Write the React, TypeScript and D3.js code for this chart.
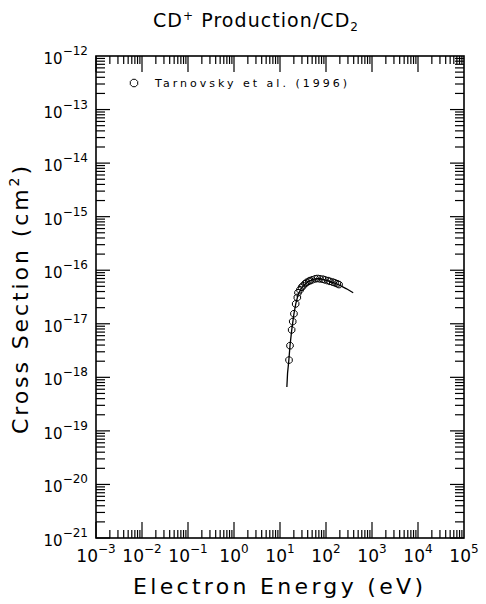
import React from "react";
import * as d3 from "d3";

// measured points (Tarnovsky et al. 1996)
const energies = [15.7, 16.5, 17.9, 18.9, 20.1, 21.9, 23.8, 24.6, 27.2, 29.5, 31.6, 35, 38, 42, 45, 50, 58, 65, 74, 85, 95, 110, 122, 140, 157, 175, 192];
const sections = [2.1e-18, 3.9e-18, 7.7e-18, 1.1e-17, 1.54e-17, 2.35e-17, 3.1e-17, 3.8e-17, 4.3e-17, 4.8e-17, 5.1e-17, 5.6e-17, 5.9e-17, 6.2e-17, 6.4e-17, 6.6e-17, 6.9e-17, 7.0e-17, 6.9e-17, 6.8e-17, 6.6e-17, 6.4e-17, 6.2e-17, 6.0e-17, 5.8e-17, 5.6e-17, 5.4e-17];

// recommended curve
const fitEnergies = [14.1, 14.6, 15.5, 16.5, 18, 20, 22, 25, 30, 40, 55, 70, 90, 120, 160, 200, 280, 390];
const fitSections = [6.6e-19, 1.2e-18, 2.0e-18, 3.9e-18, 7.7e-18, 1.5e-17, 2.35e-17, 3.6e-17, 4.8e-17, 6.1e-17, 6.8e-17, 7.0e-17, 6.7e-17, 6.2e-17, 5.7e-17, 5.2e-17, 4.5e-17, 3.8e-17];

const xExps = [-3, -2, -1, 0, 1, 2, 3, 4, 5];
const yExps = [-12, -13, -14, -15, -16, -17, -18, -19, -20, -21];

const legendLabel = "Tarnovsky et al. (1996)";
const font = "'DejaVu Sans', sans-serif";

export default function App() {
  const left = 96, right = 464, top = 56, bottom = 538;

  const x = d3.scaleLog().domain([1e-3, 1e5]).range([left, right]);
  const y = d3.scaleLog().domain([1e-21, 1e-12]).range([bottom, top]);

  const line = d3.line<number>()
    .x((d, i) => x(fitEnergies[i]))
    .y(d => y(d));

  // ticks inside the frame
  const xTicks: { v: number; major: boolean }[] = [];
  for (let e = -3; e < 5; e++) {
    for (let k = 1; k < 10; k++) xTicks.push({ v: k * Math.pow(10, e), major: k === 1 });
  }
  const yTicks: { v: number; major: boolean }[] = [];
  for (let e = -21; e < -12; e++) {
    for (let k = 1; k < 10; k++) yTicks.push({ v: k * Math.pow(10, e), major: k === 1 });
  }

  const octagon = (cx: number, cy: number, r: number) =>
    d3.range(8).map(i => {
      const a = (Math.PI / 4) * i + Math.PI / 8;
      return `${cx + r * Math.cos(a)},${cy + r * Math.sin(a)}`;
    }).join(" ");

  return (
    <svg width={486} height={604} style={{ position: "absolute", left: 0, top: 0, background: "#fff" }}>
      <rect x={0} y={0} width={486} height={604} fill="#fff" />

      {/* title */}
      <text x={153} y={27} fontFamily={font} fontSize={19} textLength={205} lengthAdjust="spacing">
        CD<tspan dy={-7} fontSize={12}>+</tspan>
        <tspan dy={7}> Production/CD</tspan>
        <tspan dy={4} fontSize={12}>2</tspan>
      </text>

      {/* frame */}
      <rect x={left} y={top} width={right - left} height={bottom - top} fill="none" stroke="#000" strokeWidth={1.6} />

      {xTicks.map((t, i) => {
        const len = t.major ? 16 : 8;
        const px = x(t.v);
        return (
          <g key={"xt" + i}>
            <line x1={px} x2={px} y1={bottom} y2={bottom - len} stroke="#000" strokeWidth={1.2} />
            <line x1={px} x2={px} y1={top} y2={top + len} stroke="#000" strokeWidth={1.2} />
          </g>
        );
      })}
      {yTicks.map((t, i) => {
        const len = t.major ? 14 : 9;
        const py = y(t.v);
        return (
          <g key={"yt" + i}>
            <line x1={left} x2={left + len} y1={py} y2={py} stroke="#000" strokeWidth={1.2} />
            <line x1={right} x2={right - len} y1={py} y2={py} stroke="#000" strokeWidth={1.2} />
          </g>
        );
      })}

      {/* tick labels */}
      {xExps.map(e => (
        <text key={"xl" + e} x={x(Math.pow(10, e))} y={562} fontFamily={font} fontSize={17} textAnchor="middle">
          10<tspan dy={-9} fontSize={12}>{e < 0 ? "\u2212" + -e : e}</tspan>
        </text>
      ))}
      {yExps.map(e => (
        <text key={"yl" + e} x={88} y={y(Math.pow(10, e)) + 8} fontFamily={font} fontSize={15} textAnchor="end">
          10<tspan dy={-9} fontSize={12}>{"\u2212" + -e}</tspan>
        </text>
      ))}

      {/* axis titles */}
      <text x={278} y={594} fontFamily={font} fontSize={22} textAnchor="middle" textLength={290} lengthAdjust="spacing">
        Electron Energy (eV)
      </text>
      <text transform="translate(28,300) rotate(-90)" fontFamily={font} fontSize={22} textAnchor="middle" textLength={268} lengthAdjust="spacing">
        Cross Section (cm<tspan dy={-9} fontSize={14}>2</tspan><tspan dy={9}>)</tspan>
      </text>

      {/* legend */}
      <polygon points={octagon(134, 83, 4)} fill="none" stroke="#000" strokeWidth={1} />
      <text x={155} y={87} fontFamily={font} fontSize={11} textLength={192} lengthAdjust="spacing">{legendLabel}</text>

      {/* curve and points */}
      <path d={line(fitSections) || ""} fill="none" stroke="#000" strokeWidth={1.3} />
      {energies.map((e, i) => (
        <polygon key={"p" + i} points={octagon(x(e), y(sections[i]), 3.5)} fill="none" stroke="#000" strokeWidth={1} />
      ))}
    </svg>
  );
}
